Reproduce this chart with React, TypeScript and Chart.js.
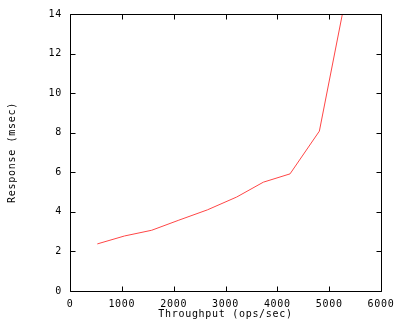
import React, { useEffect, useRef } from "react";
import { Chart, registerables } from "chart.js";

Chart.register(...registerables);

const throughput = [527, 1050, 1576, 2100, 2650, 3216, 3730, 4245, 4811, 5300];
const response = [2.38, 2.78, 3.07, 3.58, 4.1, 4.75, 5.5, 5.92, 8.08, 14.6];
const xTicks = [0, 1000, 2000, 3000, 4000, 5000, 6000];
const yTicks = [0, 2, 4, 6, 8, 10, 12, 14];
const xTitle = "Throughput (ops/sec)";
const yTitle = "Response (msec)";

const FONT = "'DejaVu Sans Mono', monospace";

const spacing = {
  id: "spacing",
  beforeDraw(chart: any) {
    chart.ctx.letterSpacing = "0.7px";
  },
};

const frame = {
  id: "gnuframe",
  afterDraw(chart: any) {
    const { ctx, chartArea } = chart;
    const { left, right, top, bottom } = chartArea;
    const xs = chart.scales.x;
    const ys = chart.scales.y;
    ctx.save();
    ctx.strokeStyle = "#000";
    ctx.lineWidth = 1;
    ctx.beginPath();
    const L = Math.round(left) + 0.5;
    const R = Math.round(right) + 0.5;
    const T = Math.round(top) + 0.5;
    const B = Math.round(bottom) + 0.5;
    ctx.rect(L, T, R - L, B - T);
    const tl = 5;
    for (const v of xTicks) {
      const px = Math.round(xs.getPixelForValue(v)) + 0.5;
      ctx.moveTo(px, B);
      ctx.lineTo(px, B - tl);
      ctx.moveTo(px, T);
      ctx.lineTo(px, T + tl);
    }
    for (const v of yTicks) {
      const py = Math.round(ys.getPixelForValue(v)) + 0.5;
      ctx.moveTo(L, py);
      ctx.lineTo(L + tl, py);
      ctx.moveTo(R, py);
      ctx.lineTo(R - tl, py);
    }
    ctx.stroke();
    ctx.restore();
  },
};

export default function App() {
  const ref = useRef<HTMLCanvasElement | null>(null);
  useEffect(() => {
    if (!ref.current) return;
    const chart = new Chart(ref.current, {
      type: "line",
      data: {
        datasets: [
          {
            data: throughput.map((x, i) => ({ x, y: response[i] })),
            borderColor: "rgb(255,70,70)",
            borderWidth: 1,
            pointRadius: 0,
            tension: 0,
            fill: false,
          },
        ],
      },
      options: {
        animation: false,
        responsive: false,
        maintainAspectRatio: false,
        layout: { padding: { left: 0, right: 19, top: 5, bottom: 0 } },
        plugins: { legend: { display: false }, tooltip: { enabled: false } },
        scales: {
          x: {
            type: "linear",
            min: 0,
            max: 6000,
            afterBuildTicks: (s: any) => {
              s.ticks = xTicks.map((v) => ({ value: v }));
            },
            afterFit: (s: any) => {
              s.height = 29;
              s.paddingRight = 0;
              s.paddingLeft = 0;
            },
            grid: { display: false, drawTicks: false },
            border: { display: false },
            ticks: {
              color: "#000",
              padding: 7,
              font: { family: FONT, size: 10 },
              maxRotation: 0,
              autoSkip: false,
              callback: (v: any) => String(v),
            },
            title: {
              display: true,
              text: xTitle,
              color: "#000",
              font: { family: FONT, size: 10, lineHeight: 1 },
              padding: { top: 0, bottom: 1 },
            },
          },
          y: {
            type: "linear",
            min: 0,
            max: 14,
            afterBuildTicks: (s: any) => {
              s.ticks = yTicks.map((v) => ({ value: v }));
            },
            afterFit: (s: any) => {
              s.width = 70;
            },
            grid: { display: false, drawTicks: false },
            border: { display: false },
            ticks: {
              color: "#000",
              padding: 8,
              font: { family: FONT, size: 10 },
              autoSkip: false,
              callback: (v: any) => String(v),
            },
            title: {
              display: true,
              text: yTitle,
              color: "#000",
              font: { family: FONT, size: 10 },
              padding: { top: 6, bottom: 0 },
            },
          },
        },
      },
      plugins: [spacing, frame],
    });
    return () => chart.destroy();
  }, []);
  return (
    <div style={{ position: "fixed", left: 0, top: 0, width: 400, height: 320, background: "#fff" }}>
      <canvas ref={ref} width={400} height={320} style={{ width: 400, height: 320 }} />
    </div>
  );
}
